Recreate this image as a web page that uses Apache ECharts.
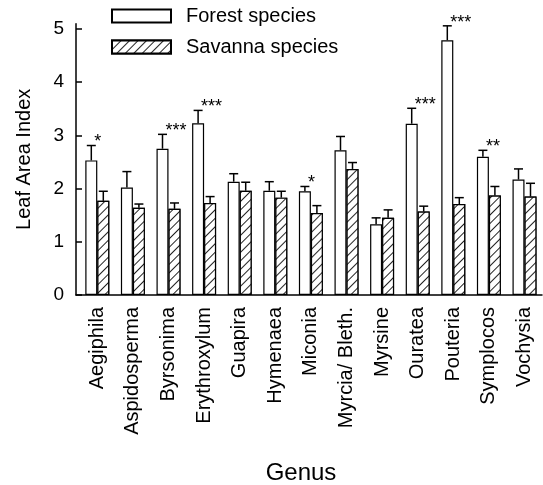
<!DOCTYPE html>
<html>
<head>
<meta charset="utf-8">
<script src="https://cdn.jsdelivr.net/npm/echarts@6/dist/echarts.min.js"></script>
<style>html,body{margin:0;padding:0;background:#fff}#c{width:543px;height:485px}</style>
</head>
<body>
<div id="c"></div>
<script>
const categories = ['Aegiphila','Aspidosperma','Byrsonima','Erythroxylum','Guapira','Hymenaea','Miconia','Myrcia/ Bleth.','Myrsine','Ouratea','Pouteria','Symplocos','Vochysia'];
const forest   = [2.53, 2.02, 2.75, 3.23, 2.13, 1.96, 1.95, 2.72, 1.33, 3.22, 4.79, 2.60, 2.17];
const forestSE = [0.28, 0.30, 0.27, 0.24, 0.15, 0.17, 0.09, 0.26, 0.12, 0.29, 0.27, 0.12, 0.20];
const savanna  = [1.77, 1.64, 1.62, 1.73, 1.96, 1.83, 1.54, 2.37, 1.45, 1.57, 1.71, 1.87, 1.85];
const savannaSE= [0.18, 0.07, 0.11, 0.12, 0.16, 0.12, 0.14, 0.12, 0.15, 0.10, 0.12, 0.17, 0.25];
const stars    = ['*', '', '***', '***', '', '', '*', '', '', '***', '***', '**', ''];
const yTicks   = [0, 1, 2, 3, 4, 5];

const FONT = 'Liberation Sans, Arial, Helvetica, sans-serif';
const BAR_W = 12;
const Y_MAX = 5.1;

const hatch = {
  symbol: 'rect', symbolSize: 1, color: '#222', backgroundColor: '#fff',
  dashArrayX: [1, 0], dashArrayY: [0.9, 4.2], rotation: -Math.PI / 4
};

function errRender(offset, withStars) {
  return function (params, api) {
    const i = api.value(0);
    const v = api.value(1);
    const se = api.value(2);
    const b = api.coord([i, v]);
    const t = api.coord([i, v + se]);
    const cx = b[0] + offset;
    const children = [
      { type: 'line', shape: { x1: cx, y1: b[1], x2: cx, y2: t[1] }, style: { stroke: '#000', lineWidth: 1.5 } },
      { type: 'line', shape: { x1: cx - 4.5, y1: t[1], x2: cx + 4.5, y2: t[1] }, style: { stroke: '#000', lineWidth: 1.5 } }
    ];
    if (withStars && stars[params.dataIndex]) {
      children.push({
        type: 'text',
        style: {
          text: stars[params.dataIndex], x: cx + 3, y: t[1] + 6,
          fill: '#000', font: '18px ' + FONT, textAlign: 'left', textVerticalAlign: 'bottom'
        }
      });
    }
    return { type: 'group', children };
  };
}

const chart = echarts.init(document.getElementById('c'), null, { renderer: 'canvas' });
chart.setOption({
  animation: false,
  backgroundColor: '#fff',
  textStyle: { fontFamily: FONT, color: '#000' },
  legend: {
    orient: 'vertical', left: 111, top: 6, padding: 0, itemWidth: 59, itemHeight: 13, itemGap: 11,
    icon: 'rect',
    data: ['Forest species', 'Savanna species'],
    textStyle: { fontSize: 20, color: '#000', fontFamily: FONT, lineHeight: 20, padding: [0, 0, 0, 10] }
  },
  grid: [
    { left: 79.5, right: 0.7, top: 23.7, bottom: 190, outerBoundsMode: 'none', containLabel: false },
    { left: 76, right: 1, top: 23.7, bottom: 190, outerBoundsMode: 'none', containLabel: false }
  ],
  xAxis: [
    {
      type: 'category', gridIndex: 0, data: categories,
      axisLine: { show: false }, axisTick: { show: false },
      axisLabel: { rotate: 90, fontSize: 20, color: '#000', margin: 12, fontFamily: FONT, interval: 0 }
    },
    {
      type: 'category', gridIndex: 1, data: categories,
      axisLine: { show: true, lineStyle: { color: '#000', width: 1.5 } },
      axisTick: { show: false }, axisLabel: { show: false },
      name: 'Genus', nameLocation: 'middle', nameGap: 166,
      nameTextStyle: { fontSize: 24, color: '#000', fontFamily: FONT, padding: [0, 16, 0, 0] }
    }
  ],
  yAxis: [
    {
      type: 'value', gridIndex: 0, min: 0, max: Y_MAX, show: false
    },
    {
      type: 'value', gridIndex: 1, min: 0, max: Y_MAX, interval: 1,
      axisLine: { show: true, lineStyle: { color: '#000', width: 1.5 } },
      axisTick: { show: true, inside: true, length: 6, lineStyle: { color: '#000', width: 1.5 },
        customValues: yTicks },
      splitLine: { show: false },
      axisLabel: { fontSize: 19, color: '#000', margin: 12, fontFamily: FONT,
        customValues: yTicks },
      name: 'Leaf Area Index', nameLocation: 'middle', nameGap: 42,
      nameTextStyle: { fontSize: 20, color: '#000', fontFamily: FONT }
    }
  ],
  series: [
    {
      name: 'Forest species', type: 'bar', xAxisIndex: 0, yAxisIndex: 0,
      data: forest, barWidth: BAR_W, barGap: '0%',
      itemStyle: { color: '#fff', borderColor: '#000', borderWidth: 1.2 }
    },
    {
      name: 'Savanna species', type: 'bar', xAxisIndex: 0, yAxisIndex: 0,
      data: savanna, barWidth: BAR_W, barGap: '0%',
      itemStyle: { color: '#fff', borderColor: '#000', borderWidth: 1.2, decal: hatch }
    },
    {
      name: 'forestErr', type: 'custom', xAxisIndex: 0, yAxisIndex: 0, z: 5,
      renderItem: errRender(-BAR_W / 2, true),
      data: forest.map((v, i) => [i, v, forestSE[i]]),
      encode: { x: 0, y: 1 }
    },
    {
      name: 'savannaErr', type: 'custom', xAxisIndex: 0, yAxisIndex: 0, z: 5,
      renderItem: errRender(BAR_W / 2, false),
      data: savanna.map((v, i) => [i, v, savannaSE[i]]),
      encode: { x: 0, y: 1 }
    }
  ]
});
</script>
</body>
</html>
